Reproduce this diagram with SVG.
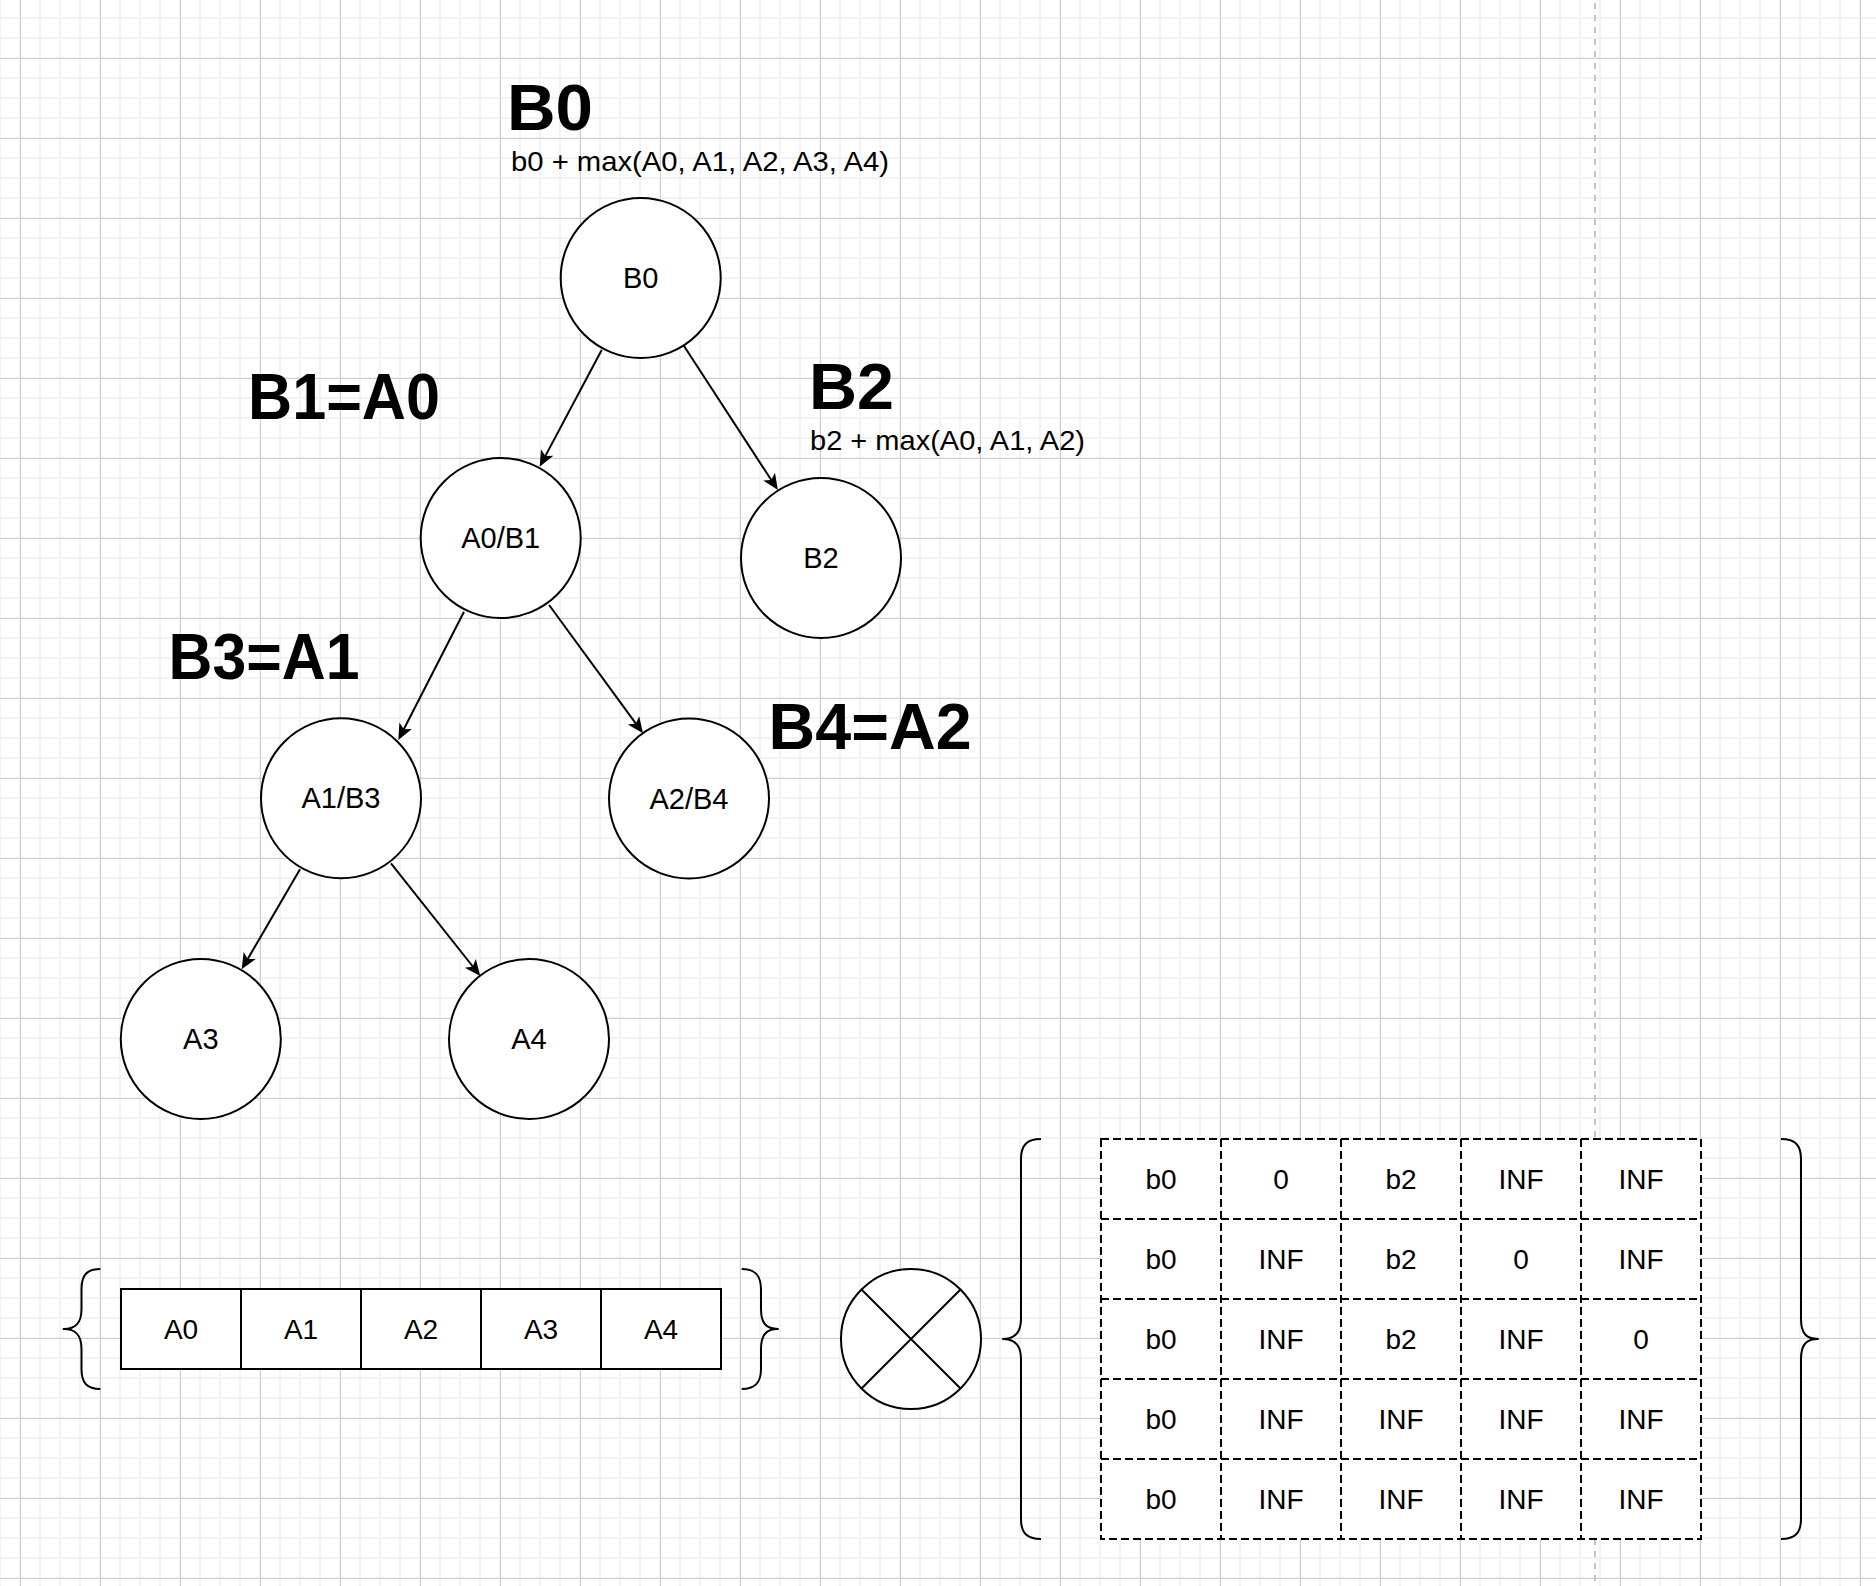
<svg xmlns="http://www.w3.org/2000/svg" width="1876" height="1586" viewBox="0 0 1876 1586">
  <defs>
    <!-- light canvas grid: 20px minor cells, 80px major cells -->
    <pattern id="gridMinor" patternUnits="userSpaceOnUse" x="-10" y="8" width="20" height="20">
      <path d="M10 0 V20 M0 10 H20" fill="none" stroke="#f3f3f3" stroke-width="2"/>
    </pattern>
    <pattern id="gridMajor" patternUnits="userSpaceOnUse" x="-20" y="18" width="80" height="80">
      <path d="M40.5 0 V80 M0 40.5 H80" fill="none" stroke="#cfcfcf" stroke-width="1"/>
    </pattern>
    <marker id="arrow" markerUnits="userSpaceOnUse" viewBox="0 0 17 15" markerWidth="17" markerHeight="15" refX="4" refY="7.5" orient="auto" overflow="visible">
      <path d="M16 7.5 L0 0.5 L4 7.5 L0 14.5 Z" fill="#000"/>
    </marker>
  </defs>
  <style>
    .node { fill: #fff; stroke: #000; stroke-width: 2; }
    .cell { fill: #fff; stroke: #000; stroke-width: 2; }
    .dash { fill: none; stroke: #000; stroke-width: 2; stroke-dasharray: 8 4; }
    .edge { fill: none; stroke: #000; stroke-width: 2; marker-end: url(#arrow); }
    .brace { fill: none; stroke: #000; stroke-width: 2; stroke-linejoin: round; }
    .t { font-family: "Liberation Sans", Arial, Helvetica, sans-serif; fill: #000; }
    .nt { font-size: 28px; text-anchor: middle; }
    .ct { font-size: 29px; text-anchor: middle; }
    .big { font-size: 64px; font-weight: bold; }
    .sub { font-size: 28.5px; }
  </style>

  <!-- canvas -->
  <rect width="1876" height="1586" fill="#fff"/>
  <rect width="1876" height="1586" fill="url(#gridMinor)"/>
  <rect width="1876" height="1586" fill="url(#gridMajor)"/>
  <line x1="1595" y1="3" x2="1595" y2="1586" stroke="#c4c4c4" stroke-width="2" stroke-dasharray="6 6"/>

  <!-- connectors -->
  <g id="edges">
    <line class="edge" x1="601.7" y1="350" x2="545.3" y2="456.1"/>
    <line class="edge" x1="684" y1="346" x2="771.3" y2="480.0"/>
    <line class="edge" x1="464" y1="611.7" x2="403.8" y2="729.3"/>
    <line class="edge" x1="549.1" y1="605" x2="635.9" y2="723.6"/>
    <line class="edge" x1="300" y1="869.3" x2="247.7" y2="959.0"/>
    <line class="edge" x1="391" y1="863.3" x2="472.8" y2="966.5"/>
  </g>

  <!-- tree nodes -->
  <g id="node-B0">
    <circle class="node" cx="640.7" cy="278" r="80"/>
    <text class="t ct" x="640.7" y="288">B0</text>
  </g>
  <g id="node-A0-B1">
    <circle class="node" cx="500.7" cy="538" r="80"/>
    <text class="t ct" x="500.7" y="548">A0/B1</text>
  </g>
  <g id="node-B2">
    <circle class="node" cx="821" cy="558" r="80"/>
    <text class="t ct" x="821" y="568">B2</text>
  </g>
  <g id="node-A1-B3">
    <circle class="node" cx="341" cy="798.3" r="80"/>
    <text class="t ct" x="341" y="808.3">A1/B3</text>
  </g>
  <g id="node-A2-B4">
    <circle class="node" cx="689" cy="798.5" r="80"/>
    <text class="t ct" x="689" y="808.5">A2/B4</text>
  </g>
  <g id="node-A3">
    <circle class="node" cx="200.8" cy="1039" r="80"/>
    <text class="t ct" x="200.8" y="1049">A3</text>
  </g>
  <g id="node-A4">
    <circle class="node" cx="529" cy="1039" r="80"/>
    <text class="t ct" x="529" y="1049">A4</text>
  </g>

  <!-- annotations -->
  <g id="label-B0">
    <text class="t big" x="507" y="130" textLength="86" lengthAdjust="spacingAndGlyphs">B0</text>
    <text class="t sub" x="511" y="171" textLength="378" lengthAdjust="spacingAndGlyphs">b0 + max(A0, A1, A2, A3, A4)</text>
  </g>
  <g id="label-B2">
    <text class="t big" x="809" y="409.3" textLength="85" lengthAdjust="spacingAndGlyphs">B2</text>
    <text class="t sub" x="810" y="450" textLength="275" lengthAdjust="spacingAndGlyphs">b2 + max(A0, A1, A2)</text>
  </g>
  <g id="label-B1">
    <text class="t big" x="248" y="419" textLength="192" lengthAdjust="spacingAndGlyphs">B1=A0</text>
  </g>
  <g id="label-B3">
    <text class="t big" x="168.6" y="679" textLength="191" lengthAdjust="spacingAndGlyphs">B3=A1</text>
  </g>
  <g id="label-B4">
    <text class="t big" x="768.6" y="749.3" textLength="203" lengthAdjust="spacingAndGlyphs">B4=A2</text>
  </g>

  <!-- vector A -->
  <g id="vector-A">
    <path class="brace" d="M100.4 1269 C87 1269 81.5 1275 81.5 1289 L81.5 1309 C81.5 1323 76 1329 63.6 1329 C76 1329 81.5 1335 81.5 1349 L81.5 1369 C81.5 1383 87 1389 100.4 1389"/>
    <rect class="cell" x="121" y="1289" width="120" height="80"/>
    <rect class="cell" x="241" y="1289" width="120" height="80"/>
    <rect class="cell" x="361" y="1289" width="120" height="80"/>
    <rect class="cell" x="481" y="1289" width="120" height="80"/>
    <rect class="cell" x="601" y="1289" width="120" height="80"/>
    <text class="t nt" x="181" y="1339">A0</text>
    <text class="t nt" x="301" y="1339">A1</text>
    <text class="t nt" x="421" y="1339">A2</text>
    <text class="t nt" x="541" y="1339">A3</text>
    <text class="t nt" x="661" y="1339">A4</text>
    <path class="brace" d="M741.7 1269 C755 1269 761 1275 761 1289 L761 1309 C761 1323 766 1329 778 1329 C766 1329 761 1335 761 1349 L761 1369 C761 1383 755 1389 741.7 1389"/>
  </g>

  <!-- product operator -->
  <g id="operator-otimes">
    <circle class="node" cx="911" cy="1339" r="70"/>
    <path d="M861.5 1289.5 L960.5 1388.5 M960.5 1289.5 L861.5 1388.5" stroke="#000" stroke-width="2" fill="none"/>
  </g>

  <!-- matrix B -->
  <g id="matrix-B">
    <path class="brace" d="M1041 1139 C1027 1139 1021 1145 1021 1159 L1021 1319 C1021 1333 1015 1339 1003 1339 C1015 1339 1021 1345 1021 1359 L1021 1519 C1021 1533 1027 1539 1041 1539"/>
    <rect x="1101" y="1139" width="600" height="400" fill="#fff"/>
    <rect class="dash" x="1101" y="1139" width="600" height="400"/>
    <path class="dash" d="M1221 1139 V1539 M1341 1139 V1539 M1461 1139 V1539 M1581 1139 V1539 M1101 1219 H1701 M1101 1299 H1701 M1101 1379 H1701 M1101 1459 H1701"/>
    <g class="t nt">
      <text x="1161" y="1189">b0</text><text x="1281" y="1189">0</text><text x="1401" y="1189">b2</text><text x="1521" y="1189">INF</text><text x="1641" y="1189">INF</text>
      <text x="1161" y="1269">b0</text><text x="1281" y="1269">INF</text><text x="1401" y="1269">b2</text><text x="1521" y="1269">0</text><text x="1641" y="1269">INF</text>
      <text x="1161" y="1349">b0</text><text x="1281" y="1349">INF</text><text x="1401" y="1349">b2</text><text x="1521" y="1349">INF</text><text x="1641" y="1349">0</text>
      <text x="1161" y="1429">b0</text><text x="1281" y="1429">INF</text><text x="1401" y="1429">INF</text><text x="1521" y="1429">INF</text><text x="1641" y="1429">INF</text>
      <text x="1161" y="1509">b0</text><text x="1281" y="1509">INF</text><text x="1401" y="1509">INF</text><text x="1521" y="1509">INF</text><text x="1641" y="1509">INF</text>
    </g>
    <path class="brace" d="M1781 1139 C1795 1139 1801 1145 1801 1159 L1801 1319 C1801 1333 1806 1339 1818 1339 C1806 1339 1801 1345 1801 1359 L1801 1519 C1801 1533 1795 1539 1781 1539"/>
  </g>
</svg>
